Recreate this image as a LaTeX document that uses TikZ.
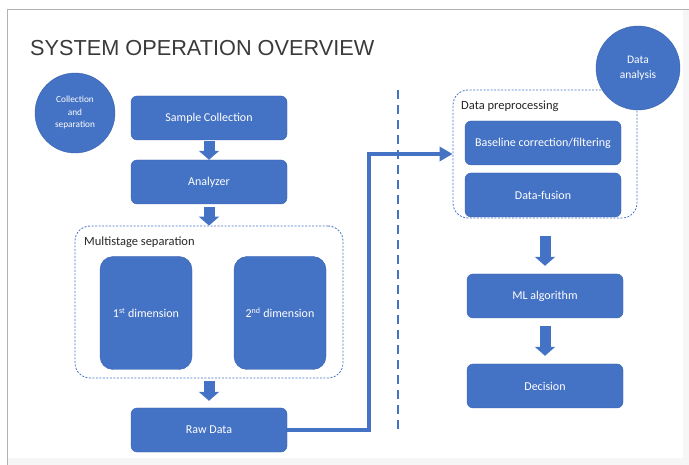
\documentclass[tikz,border=0pt]{standalone}
\usepackage{fontspec}
\setmainfont{Carlito}
\newfontfamily\titlefont{Liberation Sans}
\usetikzlibrary{arrows.meta}
\definecolor{boxblue}{HTML}{4472C4}
\definecolor{boxedge}{HTML}{3A62AC}
\definecolor{titlegray}{HTML}{3A3A3A}
\begin{document}
\begin{tikzpicture}[x=1pt, y=-1pt,
	box/.style={rectangle, rounded corners=6pt, draw=boxedge, fill=boxblue, text=white, font=\fontsize{12}{14}\selectfont, minimum width=156pt, minimum height=44pt},
	dimbox/.style={box, rounded corners=13pt, minimum width=92pt, minimum height=113pt},
	group/.style={rectangle, rounded corners=15pt, draw=boxblue, dash pattern=on 2pt off 1.5pt, line width=0.8pt},
	grouplabel/.style={anchor=north west, inner sep=0pt, font=\fontsize{12.5}{14}\selectfont, text=black!85},
	phase/.style={circle, fill=boxblue, draw=boxedge, text=white, align=center, inner sep=0pt},
	blockarrow/.style={draw=boxblue, line width=11pt, -{Triangle[width=20pt,length=9pt]}}]
\useasboundingbox (0,0) rectangle (689,465);
% page frame
\fill[gray!7] (7,458) rectangle (689,465);
\fill[gray!7] (683,10) rectangle (689,458);
\draw[gray!60, line width=1pt] (7,465) -- (7,10) -- (689,10);
\node[anchor=west, inner sep=0pt, font=\titlefont\fontsize{21.7}{24}\selectfont, text=titlegray] (title) at (30,48) {SYSTEM OPERATION OVERVIEW};
% groups
\node[group, minimum width=268pt, minimum height=152pt] (multi) at (209,302) {};
\node[grouplabel] (multilabel) at (84,237) {Multistage separation};
\node[group, minimum width=184pt, minimum height=128pt] (prep) at (545,154) {};
\node[grouplabel] (preplabel) at (461,101) {Data preprocessing};
% boxes
\foreach \x\y\n\t in {
	209/118/sample/Sample Collection
	,209/182/analyzer/Analyzer
	,209/430/raw/Raw Data
	%
	,543/143/baseline/{Baseline correction/filtering}
	,543/195/fusion/Data-fusion
	%
	,545/296/ml/ML algorithm
	,545/386/decision/Decision
}{
	\node[box](\n) at(\x,\y){\t};
}
\node[dimbox](dimone) at(146,313){1\textsuperscript{st} dimension};
\node[dimbox](dimtwo) at(280,313){2\textsuperscript{nd} dimension};
% phases
\node[phase, minimum size=80pt, font=\fontsize{9.3}{12.5}\selectfont] (collect) at (75,113) {Collection\\and\\separation};
\node[phase, minimum size=84pt, font=\fontsize{11.5}{15}\selectfont] (analysis) at (638,68) {Data\\analysis};
% flow
\draw[blockarrow, shorten <=1pt] (sample) -- (analyzer);
\draw[blockarrow, shorten <=3pt] (analyzer) -- (multi);
\draw[blockarrow, shorten <=3pt, shorten >=7pt] (multi) -- (raw);
\draw[blockarrow, shorten <=18pt, shorten >=8pt] (prep) -- (ml);
\draw[blockarrow, shorten <=8pt, shorten >=8pt] (ml) -- (decision);
\draw[draw=boxblue, line width=3.5pt, -{Triangle[width=14pt,length=13pt]}] (raw.east) -- ++(82,0) |- (prep.west);
% divider
\coordinate (divtop) at (398,90);
\coordinate (divbottom) at (398,430);
\draw[boxblue, line width=1.8pt, dash pattern=on 9pt off 6pt] (divtop) -- (divbottom);
\end{tikzpicture}
\end{document}
